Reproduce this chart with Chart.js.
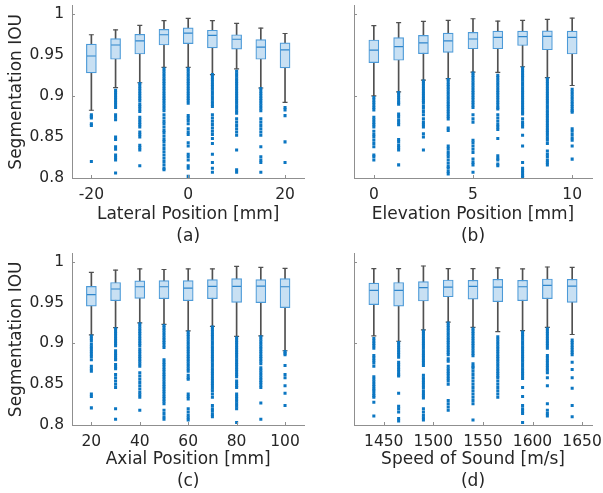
<!DOCTYPE html>
<html><head><meta charset="utf-8">
<script src="https://cdn.jsdelivr.net/npm/chart.js@4"></script>
<style>
html,body{margin:0;padding:0;background:#fff;width:603px;height:493px;overflow:hidden}
canvas{position:absolute}
</style></head><body>
<canvas id="ca" width="310" height="248" style="left:0;top:0;width:310px;height:248px"></canvas>
<canvas id="cb" width="293" height="248" style="left:310px;top:0;width:293px;height:248px"></canvas>
<canvas id="cc" width="310" height="245" style="left:0;top:248px;width:310px;height:245px"></canvas>
<canvas id="cd" width="293" height="245" style="left:310px;top:248px;width:293px;height:245px"></canvas>
<script>
// ---------- shared ----------
const yTickLabels = [0.8, 0.85, 0.9, 0.95, 1];
const yTickMarks = [0.8, 0.9, 1];
const yTitle = 'Segmentation IOU';

// ---------- (a) Lateral position ----------
const latPos = [-20, -15, -10, -5, 0, 5, 10, 15, 20];
const latTicks = [-20, 0, 20];
const latWhiskerLow = [0.8825, 0.910, 0.916, 0.9347, 0.9347, 0.926, 0.933, 0.9096, 0.892];
const latQ1 = [0.928, 0.9446, 0.951, 0.962, 0.9637, 0.9586, 0.957, 0.9446, 0.934];
const latMedian = [0.9486, 0.962, 0.967, 0.9745, 0.9765, 0.9737, 0.969, 0.9594, 0.956];
const latQ3 = [0.963, 0.9697, 0.975, 0.981, 0.983, 0.980, 0.9745, 0.9685, 0.9645];
const latWhiskerHigh = [0.9745, 0.9805, 0.986, 0.9916, 0.9944, 0.9916, 0.9884, 0.9825, 0.976];
const latOutliers = [
  [0.877, 0.875, 0.873, 0.866, 0.864, 0.820],
  [0.907, 0.904, 0.901, 0.898, 0.895, 0.892, 0.889, 0.886, 0.877, 0.874, 0.871, 0.850, 0.847, 0.838, 0.835, 0.828, 0.825, 0.822, 0.806],
  [0.915, 0.912, 0.909, 0.906, 0.903, 0.900, 0.897, 0.894, 0.890, 0.887, 0.884, 0.881, 0.874, 0.871, 0.868, 0.865, 0.862, 0.856, 0.853, 0.850, 0.840, 0.837, 0.834, 0.815],
  [0.933, 0.930, 0.927, 0.924, 0.921, 0.918, 0.915, 0.912, 0.909, 0.906, 0.903, 0.900, 0.897, 0.894, 0.891, 0.888, 0.885, 0.882, 0.877, 0.873, 0.869, 0.866, 0.862, 0.858, 0.855, 0.851, 0.847, 0.844, 0.840, 0.836, 0.832, 0.828, 0.824, 0.820, 0.816, 0.812, 0.810],
  [0.933, 0.930, 0.927, 0.924, 0.921, 0.918, 0.915, 0.912, 0.909, 0.906, 0.903, 0.900, 0.897, 0.894, 0.891, 0.876, 0.873, 0.870, 0.866, 0.860, 0.856, 0.853, 0.843, 0.839, 0.829, 0.826, 0.822, 0.815, 0.812, 0.802],
  [0.926, 0.923, 0.920, 0.917, 0.914, 0.911, 0.908, 0.905, 0.902, 0.899, 0.896, 0.893, 0.890, 0.887, 0.877, 0.873, 0.869, 0.865, 0.861, 0.857, 0.853, 0.848, 0.842, 0.829, 0.819, 0.812, 0.807],
  [0.930, 0.927, 0.924, 0.921, 0.918, 0.915, 0.912, 0.909, 0.906, 0.903, 0.900, 0.897, 0.894, 0.891, 0.888, 0.885, 0.882, 0.879, 0.872, 0.868, 0.864, 0.860, 0.856, 0.852, 0.834, 0.810, 0.807],
  [0.909, 0.906, 0.903, 0.900, 0.897, 0.894, 0.891, 0.888, 0.885, 0.882, 0.872, 0.868, 0.864, 0.860, 0.856, 0.852, 0.838, 0.826, 0.822, 0.819, 0.807],
  [0.886, 0.883, 0.876, 0.844, 0.819]
];

// ---------- (b) Elevation position ----------
const elePos = [0, 1.25, 2.5, 3.75, 5, 6.25, 7.5, 8.75, 10];
const eleTicks = [0, 5, 10];
const eleWhiskerLow = [0.900, 0.905, 0.9191, 0.921, 0.929, 0.9287, 0.9355, 0.9223, 0.9127];
const eleQ1 = [0.9406, 0.9434, 0.9514, 0.953, 0.9574, 0.9574, 0.9614, 0.9562, 0.951];
const eleMedian = [0.9558, 0.960, 0.9645, 0.967, 0.9693, 0.9713, 0.9721, 0.9725, 0.9713];
const eleQ3 = [0.9681, 0.971, 0.9737, 0.9765, 0.9773, 0.9789, 0.9789, 0.9793, 0.9789];
const eleWhiskerHigh = [0.9857, 0.9892, 0.9908, 0.992, 0.994, 0.9912, 0.992, 0.9932, 0.9948];
const eleOutliers = [
  [0.898, 0.895, 0.892, 0.889, 0.886, 0.883, 0.874, 0.871, 0.868, 0.865, 0.862, 0.857, 0.853, 0.850, 0.846, 0.842, 0.838, 0.828, 0.826, 0.822],
  [0.904, 0.901, 0.898, 0.895, 0.892, 0.890, 0.878, 0.875, 0.871, 0.868, 0.865, 0.847, 0.844, 0.840, 0.837, 0.834, 0.816],
  [0.918, 0.915, 0.912, 0.909, 0.906, 0.903, 0.900, 0.897, 0.894, 0.892, 0.888, 0.885, 0.881, 0.877, 0.872, 0.868, 0.865, 0.862, 0.854, 0.850, 0.834],
  [0.920, 0.917, 0.914, 0.911, 0.908, 0.905, 0.902, 0.899, 0.896, 0.893, 0.890, 0.887, 0.884, 0.881, 0.878, 0.875, 0.872, 0.861, 0.858, 0.839, 0.836, 0.832, 0.829, 0.826, 0.822, 0.818, 0.814, 0.812, 0.808, 0.805],
  [0.928, 0.925, 0.922, 0.919, 0.916, 0.913, 0.910, 0.907, 0.904, 0.901, 0.898, 0.895, 0.892, 0.889, 0.886, 0.877, 0.872, 0.868, 0.846, 0.843, 0.839, 0.835, 0.831, 0.823, 0.819, 0.816, 0.807],
  [0.925, 0.922, 0.919, 0.916, 0.913, 0.910, 0.907, 0.904, 0.901, 0.898, 0.895, 0.892, 0.889, 0.886, 0.884, 0.877, 0.873, 0.869, 0.865, 0.862, 0.859, 0.848, 0.827, 0.824, 0.822, 0.817, 0.815],
  [0.934, 0.931, 0.928, 0.925, 0.922, 0.919, 0.916, 0.913, 0.910, 0.907, 0.904, 0.901, 0.898, 0.895, 0.892, 0.889, 0.886, 0.883, 0.880, 0.878, 0.872, 0.868, 0.865, 0.862, 0.852, 0.839, 0.819, 0.812, 0.809, 0.806, 0.803, 0.801],
  [0.921, 0.918, 0.915, 0.912, 0.909, 0.906, 0.903, 0.900, 0.897, 0.894, 0.891, 0.888, 0.885, 0.882, 0.879, 0.876, 0.873, 0.870, 0.867, 0.864, 0.861, 0.858, 0.855, 0.852, 0.849, 0.846, 0.842, 0.833, 0.829, 0.826, 0.822, 0.819, 0.816],
  [0.908, 0.905, 0.902, 0.899, 0.896, 0.893, 0.890, 0.887, 0.884, 0.882, 0.880, 0.860, 0.857, 0.853, 0.849, 0.846, 0.839, 0.823]
];

// ---------- (c) Axial position ----------
const axPos = [20, 30, 40, 50, 60, 70, 80, 90, 100];
const axTicks = [20, 40, 60, 80, 100];
const axWhiskerLow = [0.9105, 0.9193, 0.9252, 0.9233, 0.9153, 0.9209, 0.9085, 0.9093, 0.891];
const axQ1 = [0.9455, 0.9523, 0.9551, 0.9547, 0.9523, 0.9547, 0.9503, 0.9499, 0.9439];
const axMedian = [0.9598, 0.9666, 0.9694, 0.9694, 0.9678, 0.9698, 0.9698, 0.9702, 0.9694];
const axQ3 = [0.9698, 0.9746, 0.9765, 0.9769, 0.9769, 0.9781, 0.9793, 0.9781, 0.9793];
const axWhiskerHigh = [0.9869, 0.9897, 0.9913, 0.9905, 0.9913, 0.9913, 0.9944, 0.9932, 0.992];
const axOutliers = [
  [0.909, 0.906, 0.903, 0.899, 0.896, 0.893, 0.890, 0.887, 0.884, 0.880, 0.872, 0.869, 0.866, 0.838, 0.835, 0.821],
  [0.918, 0.915, 0.912, 0.909, 0.906, 0.903, 0.900, 0.897, 0.891, 0.888, 0.885, 0.882, 0.880, 0.874, 0.871, 0.869, 0.862, 0.858, 0.854, 0.850, 0.846, 0.820, 0.807],
  [0.924, 0.921, 0.918, 0.915, 0.912, 0.909, 0.906, 0.903, 0.900, 0.897, 0.893, 0.890, 0.887, 0.884, 0.881, 0.878, 0.875, 0.872, 0.864, 0.860, 0.856, 0.852, 0.848, 0.844, 0.840, 0.837, 0.834, 0.818],
  [0.922, 0.919, 0.916, 0.913, 0.910, 0.907, 0.904, 0.901, 0.898, 0.895, 0.880, 0.877, 0.874, 0.871, 0.868, 0.865, 0.862, 0.859, 0.856, 0.853, 0.850, 0.847, 0.844, 0.841, 0.838, 0.835, 0.832, 0.829, 0.826, 0.818, 0.814, 0.810, 0.807],
  [0.914, 0.911, 0.908, 0.905, 0.902, 0.899, 0.896, 0.893, 0.890, 0.887, 0.884, 0.881, 0.878, 0.875, 0.872, 0.869, 0.866, 0.861, 0.858, 0.856, 0.838, 0.835, 0.832, 0.820, 0.816, 0.812, 0.809, 0.806],
  [0.920, 0.917, 0.914, 0.911, 0.908, 0.905, 0.902, 0.899, 0.896, 0.893, 0.890, 0.887, 0.884, 0.881, 0.878, 0.875, 0.872, 0.869, 0.866, 0.863, 0.860, 0.857, 0.854, 0.851, 0.848, 0.845, 0.842, 0.838, 0.834, 0.824, 0.820, 0.817, 0.813, 0.810],
  [0.907, 0.904, 0.901, 0.898, 0.895, 0.892, 0.889, 0.886, 0.883, 0.880, 0.877, 0.874, 0.871, 0.868, 0.865, 0.862, 0.859, 0.854, 0.851, 0.848, 0.846, 0.838, 0.835, 0.832, 0.829, 0.826, 0.823, 0.820, 0.803],
  [0.908, 0.905, 0.902, 0.899, 0.896, 0.893, 0.890, 0.887, 0.884, 0.881, 0.878, 0.875, 0.870, 0.867, 0.864, 0.861, 0.858, 0.855, 0.852, 0.849, 0.846, 0.827, 0.807],
  [0.890, 0.888, 0.886, 0.873, 0.862, 0.858, 0.848, 0.839, 0.824]
];

// ---------- (d) Speed of sound ----------
const sosPos = [1440, 1465, 1490, 1515, 1540, 1565, 1590, 1615, 1640];
const sosTicks = [1450, 1500, 1550, 1600, 1650];
const sosWhiskerLow = [0.9093, 0.9026, 0.9165, 0.926, 0.9197, 0.9145, 0.9157, 0.9197, 0.9109];
const sosQ1 = [0.9475, 0.9455, 0.9519, 0.9571, 0.9543, 0.9511, 0.9523, 0.9547, 0.9503];
const sosMedian = [0.965, 0.965, 0.9682, 0.969, 0.9698, 0.969, 0.9694, 0.971, 0.9702];
const sosQ3 = [0.9738, 0.9746, 0.9757, 0.9777, 0.9773, 0.9785, 0.9773, 0.9789, 0.9785];
const sosWhiskerHigh = [0.9917, 0.9917, 0.9948, 0.9917, 0.9917, 0.9925, 0.9913, 0.9936, 0.9932];
const sosOutliers = [
  [0.906, 0.903, 0.900, 0.897, 0.894, 0.885, 0.882, 0.879, 0.876, 0.872, 0.859, 0.856, 0.853, 0.850, 0.847, 0.844, 0.842, 0.839, 0.836, 0.834, 0.828, 0.811],
  [0.901, 0.898, 0.895, 0.892, 0.889, 0.886, 0.883, 0.877, 0.874, 0.871, 0.868, 0.865, 0.862, 0.860, 0.839, 0.823, 0.820, 0.816, 0.808, 0.805],
  [0.915, 0.912, 0.909, 0.906, 0.903, 0.900, 0.897, 0.894, 0.891, 0.888, 0.885, 0.882, 0.879, 0.876, 0.873, 0.861, 0.858, 0.855, 0.852, 0.849, 0.846, 0.842, 0.839, 0.836, 0.833, 0.820, 0.816, 0.812, 0.809, 0.806],
  [0.925, 0.922, 0.919, 0.916, 0.913, 0.910, 0.907, 0.904, 0.901, 0.898, 0.895, 0.892, 0.889, 0.886, 0.881, 0.878, 0.872, 0.869, 0.866, 0.863, 0.860, 0.857, 0.854, 0.850, 0.830, 0.826, 0.822, 0.818],
  [0.918, 0.915, 0.912, 0.909, 0.906, 0.903, 0.900, 0.897, 0.894, 0.891, 0.888, 0.885, 0.875, 0.872, 0.870, 0.866, 0.862, 0.858, 0.854, 0.850, 0.846, 0.842, 0.838, 0.834, 0.830, 0.826, 0.806],
  [0.908, 0.905, 0.902, 0.899, 0.896, 0.893, 0.890, 0.887, 0.884, 0.881, 0.878, 0.875, 0.872, 0.869, 0.866, 0.863, 0.860, 0.858, 0.854, 0.850, 0.846, 0.842, 0.838, 0.834],
  [0.914, 0.911, 0.908, 0.905, 0.902, 0.899, 0.896, 0.893, 0.890, 0.887, 0.884, 0.881, 0.878, 0.875, 0.872, 0.869, 0.866, 0.863, 0.860, 0.857, 0.846, 0.835, 0.824, 0.820, 0.817, 0.814, 0.803],
  [0.918, 0.915, 0.912, 0.909, 0.906, 0.903, 0.900, 0.897, 0.894, 0.885, 0.882, 0.879, 0.876, 0.873, 0.870, 0.867, 0.864, 0.858, 0.848, 0.826, 0.818, 0.814, 0.811],
  [0.904, 0.901, 0.898, 0.895, 0.892, 0.889, 0.886, 0.877, 0.868, 0.858, 0.845, 0.824, 0.810]
];

// ---------- drawing ----------
const TEXT = '#262626';
const AXIS = '#8f8f8f';
Chart.defaults.font.family = "'DejaVu Sans', sans-serif";
Chart.defaults.color = TEXT;

const innerTicks = {
  id: 'innerTicks',
  afterDraw(chart, args, opts) {
    const {ctx, chartArea: a, scales: {x, y}} = chart;
    ctx.save();
    ctx.strokeStyle = AXIS; ctx.lineWidth = 1;
    ctx.beginPath();
    opts.xMarks.forEach(v => { const p = Math.round(x.getPixelForValue(v)) + 0.5; ctx.moveTo(p, a.bottom); ctx.lineTo(p, a.bottom - 3); });
    opts.yMarks.forEach(v => { const p = Math.round(y.getPixelForValue(v)) + 0.5; ctx.moveTo(a.left, p); ctx.lineTo(a.left + 3, p); });
    ctx.stroke();
    ctx.restore();
  }
};

function makePanel(id, o) {
  const pts = ys => o.x.map((x, i) => ({x, y: ys[i]}));
  const outl = [];
  o.x.forEach((x, i) => o.outliers[i].forEach(v => outl.push({x, y: v})));
  return new Chart(document.getElementById(id), {
    type: 'bar',
    data: {datasets: [
      {type: 'bar', data: o.x.map((x, i) => ({x, y: [o.wLo[i], o.wHi[i]]})), backgroundColor: '#505050', barThickness: 1, grouped: false, order: 10},
      {type: 'bar', data: o.x.map((x, i) => ({x, y: [o.q1[i], o.q3[i]]})), backgroundColor: '#c8e0f3', borderColor: '#4c9ad8', borderWidth: 1.2, borderSkipped: false, barThickness: 10, grouped: false, order: 9},
      {type: 'scatter', data: pts(o.med), pointStyle: 'line', pointRadius: 4.4, borderColor: '#2f86cc', borderWidth: 1.2, order: 8},
      {type: 'scatter', data: pts(o.wLo).concat(pts(o.wHi)), pointStyle: 'line', pointRadius: 2.5, borderColor: '#505050', borderWidth: 1.2, order: 8},
      {type: 'scatter', data: outl, pointStyle: 'rect', pointRadius: 2.15, backgroundColor: '#0b76c2', borderWidth: 0, order: 1}
    ]},
    options: {
      responsive: false, animation: false, devicePixelRatio: 1,
      layout: {padding: o.pad},
      plugins: {legend: {display: false}, tooltip: {enabled: false},
        innerTicks: {xMarks: o.ticks, yMarks: yTickMarks}},
      scales: {
        x: {
          type: 'linear', min: o.min, max: o.max, offset: false,
          grid: {display: true, drawOnChartArea: false, drawTicks: false, offset: false},
          border: {display: true, color: AXIS, width: 1},
          afterBuildTicks: s => { s.ticks = o.ticks.map(v => ({value: v})); },
          ticks: {autoSkip: false, maxRotation: 0, padding: 8, font: {size: 15.5}, color: TEXT, callback: v => String(v)},
          title: {display: true, text: [o.xTitle, o.label], font: {size: 17, lineHeight: 1.3}, color: TEXT, padding: 0},
          afterFit: s => { s.height = o.xH; s.paddingLeft = 0; s.paddingRight = 0; }
        },
        y: {
          type: 'linear', min: 0.8, max: 1.01,
          grid: {display: true, drawOnChartArea: false, drawTicks: false},
          border: {display: true, color: AXIS, width: 1},
          afterBuildTicks: s => { s.ticks = yTickLabels.map(v => ({value: v})); },
          ticks: {display: o.showY, padding: 8, font: {size: 15.5}, color: TEXT, callback: v => String(v)},
          title: {display: o.showY, text: yTitle, font: {size: 17, lineHeight: 1.2}, color: TEXT, padding: {top: 6, bottom: 0}},
          afterFit: s => { s.width = o.yW; s.paddingTop = 0; s.paddingBottom = 0; }
        }
      }
    },
    plugins: [innerTicks]
  });
}

makePanel('ca', {x: latPos, wLo: latWhiskerLow, q1: latQ1, med: latMedian, q3: latQ3, wHi: latWhiskerHigh, outliers: latOutliers,
  ticks: latTicks, min: -24, max: 24, xTitle: 'Lateral Position [mm]', label: '(a)', showY: true,
  yW: 72, xH: 70, pad: {left: 0, top: 3, right: 2, bottom: 0}});
makePanel('cb', {x: elePos, wLo: eleWhiskerLow, q1: eleQ1, med: eleMedian, q3: eleQ3, wHi: eleWhiskerHigh, outliers: eleOutliers,
  ticks: eleTicks, min: -1, max: 11, xTitle: 'Elevation Position [mm]', label: '(b)', showY: false,
  yW: 44, xH: 70, pad: {left: 0, top: 3, right: 11, bottom: 0}});
makePanel('cc', {x: axPos, wLo: axWhiskerLow, q1: axQ1, med: axMedian, q3: axQ3, wHi: axWhiskerHigh, outliers: axOutliers,
  ticks: axTicks, min: 12, max: 108, xTitle: 'Axial Position [mm]', label: '(c)', showY: true,
  yW: 72, xH: 68, pad: {left: 0, top: 1, right: 2, bottom: 0}});
makePanel('cd', {x: sosPos, wLo: sosWhiskerLow, q1: sosQ1, med: sosMedian, q3: sosQ3, wHi: sosWhiskerHigh, outliers: sosOutliers,
  ticks: sosTicks, min: 1420, max: 1660, xTitle: 'Speed of Sound [m/s]', label: '(d)', showY: false,
  yW: 44, xH: 68, pad: {left: 0, top: 1, right: 11, bottom: 0}});
</script>
</body></html>
